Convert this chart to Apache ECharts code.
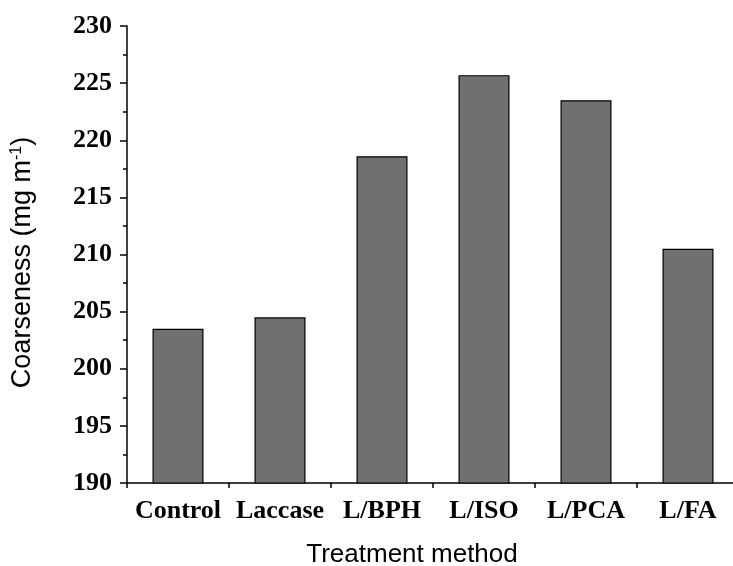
<!DOCTYPE html>
<html>
<head>
<meta charset="utf-8">
<script src="https://cdn.jsdelivr.net/npm/echarts@6/dist/echarts.min.js"></script>
<style>
  html, body { margin: 0; padding: 0; background: #fff; }
  #chart { width: 733px; height: 566px; }
</style>
</head>
<body>
<div id="chart"></div>
<script>
var categories = ['Control', 'Laccase', 'L/BPH', 'L/ISO', 'L/PCA', 'L/FA'];
var coarseness = [203.5, 204.5, 218.6, 225.7, 223.5, 210.5];
var yTicks = [190, 195, 200, 205, 210, 215, 220, 225, 230];

var chart = echarts.init(document.getElementById('chart'));
var tickFont = { fontFamily: 'Liberation Serif', fontWeight: 'bold', fontSize: 26, color: '#000' };

var option = {
  animation: false,
  grid: { left: 127, top: 26, width: 612, height: 457, containLabel: false, outerBoundsMode: 'none' },
  xAxis: {
    type: 'category',
    data: categories,
    name: 'Treatment method',
    nameLocation: 'middle',
    nameGap: 59,
    nameTextStyle: { fontFamily: 'Liberation Sans', fontSize: 26, color: '#000', padding: [0, 42, 0, 0] },
    axisLine: { lineStyle: { color: '#000', width: 1.5 } },
    axisTick: { show: true, length: 5, lineStyle: { color: '#000', width: 1.5 } },
    axisLabel: Object.assign({ margin: 15, interval: 0 }, tickFont),
    splitLine: { show: false }
  },
  yAxis: {
    type: 'value',
    min: yTicks[0],
    max: yTicks[yTicks.length - 1],
    interval: 5,
    name: '{a|Coarseness (mg m}{s|-1}{a|)}',
    nameLocation: 'middle',
    nameGap: 90,
    nameTextStyle: {
      padding: [0, 16, 0, 0],
      rich: {
        a: { fontFamily: 'Liberation Sans', fontSize: 27, color: '#000' },
        s: { fontFamily: 'Liberation Sans', fontSize: 16, color: '#000', verticalAlign: 'top', padding: [0, 0, 12, 0] }
      }
    },
    axisLine: { show: true, lineStyle: { color: '#000', width: 1.5 } },
    axisTick: { show: true, length: 7, lineStyle: { color: '#000', width: 1.5 } },
    minorTick: { show: true, splitNumber: 2, length: 4, lineStyle: { color: '#000', width: 1.5 } },
    axisLabel: Object.assign({ margin: 15 }, tickFont),
    splitLine: { show: false }
  },
  series: [{
    type: 'bar',
    data: coarseness,
    barWidth: '50%',
    itemStyle: { color: '#707070', borderColor: '#000', borderWidth: 1.2 }
  }]
};
chart.setOption(option);
</script>
</body>
</html>
